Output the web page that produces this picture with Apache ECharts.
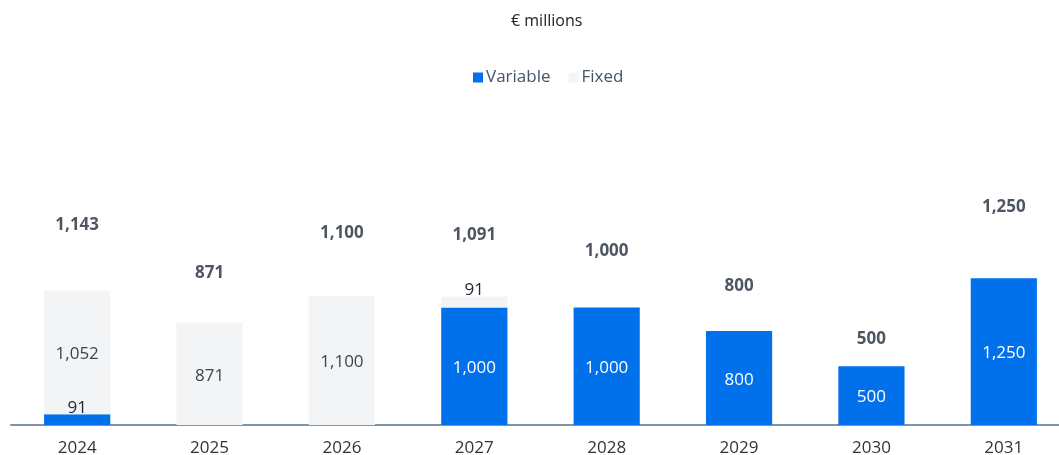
<!DOCTYPE html>
<html>
<head>
<meta charset="utf-8">
<script src="https://cdn.jsdelivr.net/npm/echarts@6/dist/echarts.min.js"></script>
<style>
  html, body { margin: 0; padding: 0; background: #fff; }
  #chart { width: 1059px; height: 455px; }
</style>
</head>
<body>
<div id="chart"></div>
<script>
// Maturity profile, € millions
const years = ['2024', '2025', '2026', '2027', '2028', '2029', '2030', '2031'];
const variableValues = [91, 0, 0, 1000, 1000, 800, 500, 1250];
const fixedValues = [1052, 871, 1100, 91, 0, 0, 0, 0];
const totals = years.map((_, i) => variableValues[i] + fixedValues[i]);

const FONT = '"Open Sans", Lato, sans-serif';
const fmt = v => Number(v).toLocaleString('en-US');

// Small segments get their label on top, others centred inside
function segData(values, insideColor) {
  return values.map(v => {
    if (!v) return null;
    const small = v < 150;
    return {
      value: v,
      label: {
        show: true,
        position: small ? 'top' : 'inside',
        distance: 0,
        offset: [0, 2],
        color: small ? '#222a35' : insideColor,
        formatter: p => fmt(p.value)
      }
    };
  });
}

const chart = echarts.init(document.getElementById('chart'));
chart.setOption({
  animation: false,
  textStyle: { fontFamily: FONT },
  // title and legend are centred on the plot area, which overhangs the right edge
  title: {
    text: '€ millions',
    left: 506,
    top: 8,
    textStyle: { fontFamily: FONT, fontSize: 16, fontWeight: 'normal', color: '#222' }
  },
  legend: {
    top: 64,
    left: 468,
    icon: 'rect',
    itemWidth: 10,
    itemHeight: 10,
    itemGap: 18,
    textStyle: { fontFamily: FONT, fontSize: 17, color: '#44546a', padding: [0, 0, 0, -2] },
    data: ['Variable', 'Fixed']
  },
  grid: { left: 11, right: -11, top: 190, bottom: 30, outerBoundsMode: 'none', containLabel: false },
  xAxis: {
    type: 'category',
    data: years,
    axisLine: { lineStyle: { color: '#7f93ab', width: 2 } },
    axisTick: { show: false },
    axisLabel: { fontFamily: FONT, fontSize: 17, color: '#333', margin: 15 }
  },
  yAxis: [
    { type: 'value', min: 0, max: 2000, show: false, splitLine: { show: false } },
    { type: 'value', min: 0, max: 2000 / 1.5, show: false, splitLine: { show: false } }
  ],
  series: [
    {
      name: 'Variable',
      type: 'bar',
      stack: 'total',
      barWidth: '50%',
      itemStyle: { color: '#0070eb' },
      label: { fontFamily: FONT, fontSize: 17 },
      data: segData(variableValues, '#ffffff'),
      silent: true
    },
    {
      name: 'Fixed',
      type: 'bar',
      stack: 'total',
      barWidth: '50%',
      itemStyle: { color: '#f3f4f6' },
      label: { fontFamily: FONT, fontSize: 17 },
      data: segData(fixedValues, '#3a4453'),
      silent: true
    },
    {
      name: 'Total',
      type: 'scatter',
      yAxisIndex: 1,
      symbolSize: 1,
      itemStyle: { color: 'rgba(0,0,0,0)' },
      silent: true,
      label: {
        show: true,
        position: 'inside',
        offset: [0, 2],
        fontFamily: FONT,
        fontSize: 17,
        fontWeight: 'bold',
        color: '#1f2a3a',
        formatter: p => fmt(p.value)
      },
      data: totals
    }
  ]
});
</script>
</body>
</html>
